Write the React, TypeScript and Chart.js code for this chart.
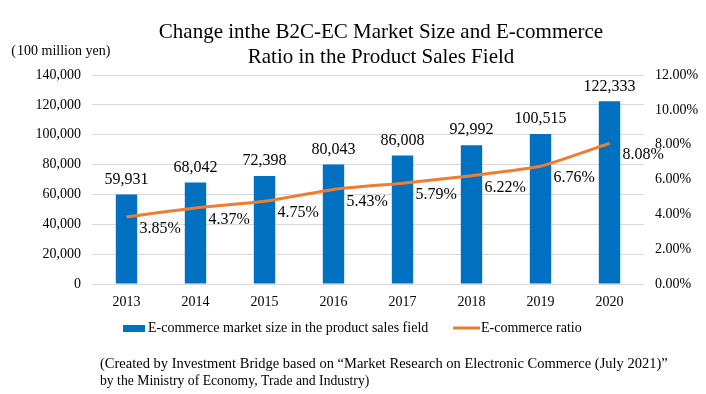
import React, { useEffect, useRef } from "react";
import { Chart, registerables } from "chart.js";

Chart.register(...registerables);

const years = ["2013", "2014", "2015", "2016", "2017", "2018", "2019", "2020"];
const marketSize = [59931, 68042, 72398, 80043, 86008, 92992, 100515, 122333];
const ecRatio = [3.85, 4.37, 4.75, 5.43, 5.79, 6.22, 6.76, 8.08];
const titleLines = [
  "Change inthe B2C-EC Market Size and E-commerce",
  "Ratio in the Product Sales Field",
];
const unitLabel = "（100 million yen)";
const barLabel = "E-commerce market size in the product sales field";
const lineLabel = "E-commerce ratio";
const captionLines = [
  "(Created by Investment Bridge based on “Market Research on Electronic Commerce (July 2021)”",
  "by the Ministry of Economy, Trade and Industry)",
];

const FONT = "'Liberation Serif', 'Times New Roman', serif";
const BLUE = "#0070C0";
const ORANGE = "#ED7D31";

// fullwidth opening bracket drawn right-aligned inside an em box
function drawUnit(ctx: any, text: string, x: number, y: number, size: number) {
  ctx.font = `${size}px ${FONT}`;
  let cx = x;
  for (const part of text.split(/(（)/)) {
    if (!part) continue;
    if (part === "（") {
      const w = ctx.measureText("(").width;
      ctx.fillText("(", cx + size - w - 1, y);
      cx += size;
    } else {
      ctx.fillText(part, cx, y);
      cx += ctx.measureText(part).width;
    }
  }
}

const extrasPlugin = {
  id: "extras",
  afterDatasetsDraw(chart: any) {
    const ctx = chart.ctx;
    ctx.save();
    ctx.fillStyle = "#000";
    ctx.font = `16px ${FONT}`;
    ctx.textAlign = "center";
    ctx.textBaseline = "middle";
    const barMeta = chart.getDatasetMeta(0);
    barMeta.data.forEach((el: any, i: number) => {
      ctx.fillText(marketSize[i].toLocaleString("en-US"), el.x, el.y - 15);
    });
    ctx.textAlign = "left";
    const lineMeta = chart.getDatasetMeta(1);
    lineMeta.data.forEach((el: any, i: number) => {
      ctx.fillText(ecRatio[i].toFixed(2) + "%", el.x + 13, el.y + 12);
    });
    ctx.restore();
  },
  afterDraw(chart: any) {
    const ctx = chart.ctx;
    ctx.save();
    ctx.fillStyle = "#000";
    ctx.textBaseline = "middle";
    ctx.font = `21px ${FONT}`;
    ctx.textAlign = "center";
    ctx.fillText(titleLines[0], 381, 32);
    ctx.fillText(titleLines[1], 381, 57);
    ctx.textAlign = "left";
    drawUnit(ctx, unitLabel, 3, 51, 14);
    // legend
    ctx.fillStyle = BLUE;
    ctx.fillRect(123, 325, 22, 7);
    ctx.fillStyle = "#000";
    ctx.font = `14px ${FONT}`;
    ctx.fillText(barLabel, 148, 328);
    ctx.strokeStyle = ORANGE;
    ctx.lineWidth = 3;
    ctx.beginPath();
    ctx.moveTo(453, 328);
    ctx.lineTo(480, 328);
    ctx.stroke();
    ctx.fillText(lineLabel, 481, 328);
    // caption
    ctx.font = `14.5px ${FONT}`;
    ctx.fillText(captionLines[0], 100, 364);
    ctx.font = `13.7px ${FONT}`;
    ctx.fillText(captionLines[1], 100, 381);
    ctx.restore();
  },
};

export default function App() {
  const ref = useRef<HTMLCanvasElement | null>(null);
  useEffect(() => {
    if (!ref.current) return;
    const chart = new Chart(ref.current, {
      type: "bar",
      data: {
        labels: years,
        datasets: [
          {
            type: "bar",
            label: barLabel,
            data: marketSize,
            backgroundColor: BLUE,
            yAxisID: "y",
            barPercentage: 0.31,
            categoryPercentage: 1,
            order: 1,
          },
          {
            type: "line",
            label: lineLabel,
            data: ecRatio,
            borderColor: ORANGE,
            borderWidth: 3,
            pointRadius: 0,
            tension: 0.15,
            yAxisID: "y1",
            order: 0,
          } as any,
        ],
      },
      options: {
        animation: false,
        responsive: false,
        layout: { padding: { top: 75, left: 0, right: 0, bottom: 0 } },
        plugins: {
          legend: { display: false },
          title: { display: false },
          tooltip: { enabled: false },
        },
        scales: {
          x: {
            grid: { display: false },
            border: { display: false },
            ticks: { color: "#000", font: { family: FONT, size: 14 }, padding: 2 },
            afterFit: (s: any) => {
              s.height = 110;
            },
          },
          y: {
            min: 0,
            max: 140000,
            ticks: {
              stepSize: 20000,
              color: "#000",
              font: { family: FONT, size: 14 },
              padding: 11,
              callback: (v: any) => Number(v).toLocaleString("en-US"),
            },
            grid: { color: "#d9d9d9", drawTicks: false },
            border: { display: false },
            afterFit: (s: any) => {
              s.width = 92;
            },
          },
          y1: {
            position: "right",
            min: 0,
            max: 12,
            ticks: {
              stepSize: 2,
              color: "#000",
              font: { family: FONT, size: 14 },
              padding: 11,
              callback: (v: any) => Number(v).toFixed(2) + "%",
            },
            grid: { display: false, drawTicks: false },
            border: { display: false },
            afterFit: (s: any) => {
              s.width = 62;
            },
          },
        },
      },
      plugins: [extrasPlugin],
    });
    return () => chart.destroy();
  }, []);
  return (
    <div style={{ position: "absolute", left: 0, top: 0, width: 706, height: 394, background: "#fff" }}>
      <canvas ref={ref} width={706} height={394} style={{ display: "block" }} />
    </div>
  );
}
